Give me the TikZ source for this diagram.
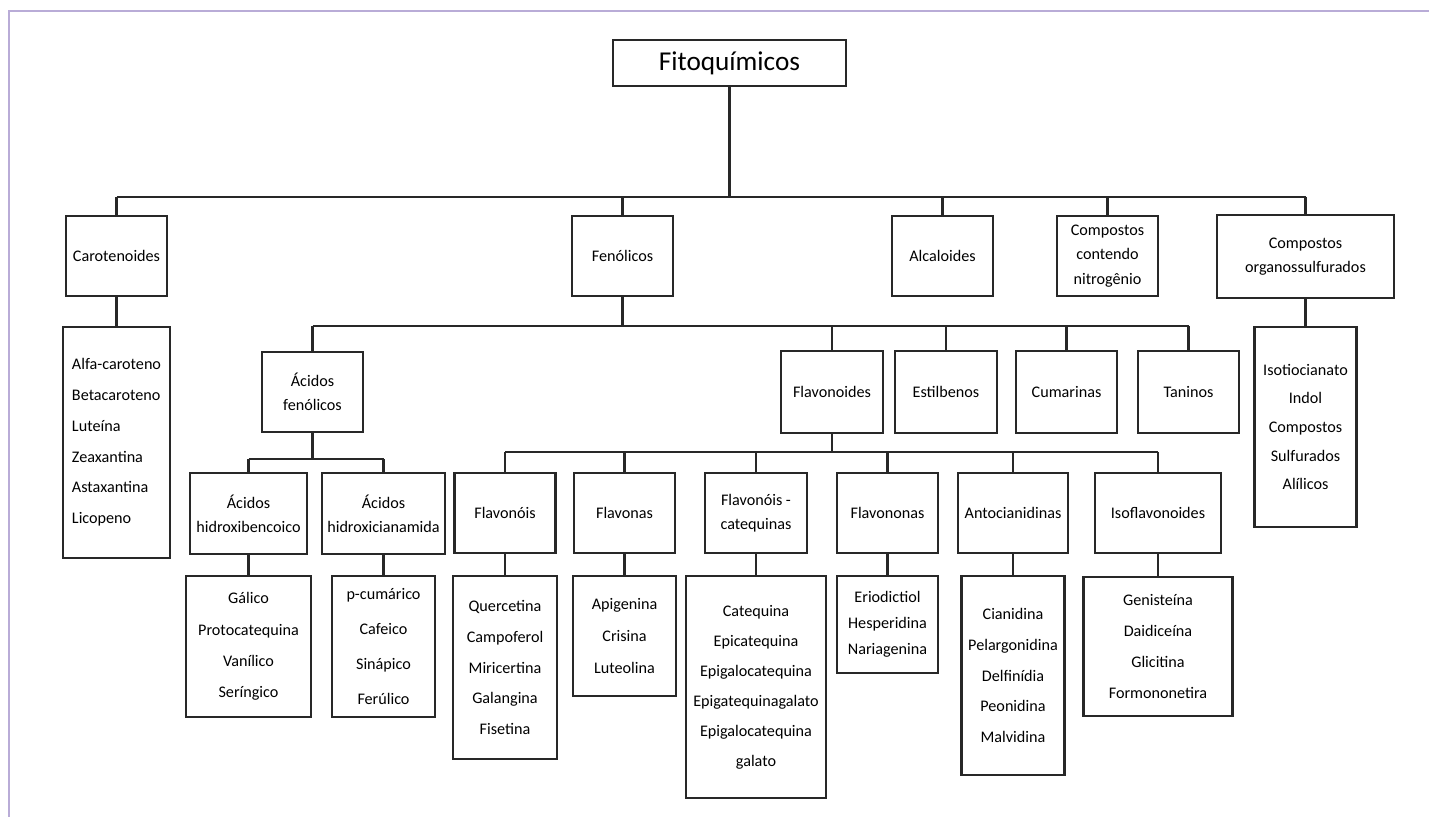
\documentclass[tikz,border=0pt]{standalone}
\usepackage{fontspec}
\setmainfont{Carlito}
\definecolor{framecol}{RGB}{185,172,215}
\definecolor{boxcol}{RGB}{40,40,40}

\begin{document}
\begin{tikzpicture}[x=0.02cm, y=-0.02cm,
  bx/.style 2 args={rectangle, draw=boxcol, line width=1.3pt, inner sep=0pt,
                    minimum width=#1cm, minimum height=#2cm, align=center,
                    font=\fontsize{9.2pt}{13.8pt}\selectfont},
  lst/.style={font=\fontsize{9.2pt}{#1pt}\selectfont},
  ln/.style={draw=boxcol, line width=1.3pt}
]
\useasboundingbox (0,0) rectangle (1429,817);
\draw[framecol, line width=1pt] (9,817) -- (9,11) -- (1429,11);

% root and first level
\node[bx={4.66}{0.92}, font=\fontsize{15.5pt}{18pt}\selectfont] (fito) at (729.5,63) {Fitoquímicos};
\node[bx={2.02}{1.6}]  (car)  at (116.5,256) {Carotenoides};
\node[bx={2.02}{1.6}]  (fen)  at (622.5,256) {Fenólicos};
\node[bx={2.02}{1.6}]  (alc)  at (942.5,256) {Alcaloides};
\node[bx={2.02}{1.6}]  (nit)  at (1107.5,256) {Compostos\\contendo\\nitrogênio};
\node[bx={3.54}{1.66}] (sulf) at (1305.5,256.5) {Compostos\\organossulfurados};

\node[bx={2.14}{4.62}, lst=17.5, align=left] (carl) at (116.5,442.5)
  {Alfa-caroteno\\Betacaroteno\\Luteína\\Zeaxantina\\Astaxantina\\Licopeno};
\node[bx={2.04}{4.0}, lst=16.3] (sulfl) at (1305.5,427)
  {Isotiocianato\\Indol\\Compostos\\Sulfurados\\Alílicos};

% fenolicos
\node[bx={2.02}{1.6}]  (acf) at (312.5,392) {Ácidos\\fenólicos};
\node[bx={2.04}{1.64}] (flv) at (832,392) {Flavonoides};
\node[bx={2.04}{1.64}] (est) at (946,392) {Estilbenos};
\node[bx={2.02}{1.64}] (cum) at (1066.5,392) {Cumarinas};
\node[bx={2.02}{1.64}] (tan) at (1188.5,392) {Taninos};

\node[bx={2.34}{1.62}] (ahb) at (248.5,513.5) {Ácidos\\hidroxibencoico};
\node[bx={2.46}{1.62}] (ahc) at (383.5,513.5) {Ácidos\\hidroxicianamida};
\node[bx={2.5}{2.82}, lst=17.8] (gal) at (248.5,646.5)
  {Gálico\\Protocatequina\\Vanílico\\Seríngico};
\node[bx={2.06}{2.82}, lst=19.8] (pcu) at (383.5,646.5)
  {p-cumárico\\Cafeico\\Sinápico\\Ferúlico};

% flavonoides
\node[bx={2.02}{1.6}]  (fol)  at (505,513) {Flavonóis};
\node[bx={2.02}{1.6}]  (fna)  at (624.5,513) {Flavonas};
\node[bx={2.04}{1.6}]  (fcat) at (756,513) {Flavonóis -\\catequinas};
\node[bx={2.02}{1.6}]  (fnn)  at (887.5,513) {Flavononas};
\node[bx={2.2}{1.6}]   (ant)  at (1013,513) {Antocianidinas};
\node[bx={2.52}{1.6}]  (iso)  at (1158,513) {Isoflavonoides};

\node[bx={2.08}{3.66}, lst=17.4] (foll) at (505,667.5)
  {Quercetina\\Campoferol\\Miricertina\\Galangina\\Fisetina};
\node[bx={2.06}{2.4}, lst=18.1] (fnal) at (624.5,636)
  {Apigenina\\Crisina\\Luteolina};
\node[bx={2.8}{4.44}, lst=17.1] (fcatl) at (756,687)
  {Catequina\\Epicatequina\\Epigalocatequina\\Epigatequinagalato\\Epigalocatequina\\galato};
\node[bx={2.02}{1.94}, lst=14.7] (fnnl) at (887.5,624.5)
  {Eriodictiol\\Hesperidina\\Nariagenina};
\node[bx={2.06}{3.98}, lst=17.4] (antl) at (1013,675.5)
  {Cianidina\\Pelargonidina\\Delfinídia\\Peonidina\\Malvidina};
\node[bx={2.98}{2.78}, lst=17.8] (isol) at (1158,646.5)
  {Genisteína\\Daidiceína\\Glicitina\\Formononetira};

% connectors
\coordinate (bus0) at (0,197);
\coordinate (bus1) at (0,326);
\coordinate (bus2) at (0,459);
\coordinate (bus3) at (0,452);

\draw[ln] (fito.south) -- (fito.south |- bus0);
\draw[ln] (car.north |- bus0) -- (sulf.north |- bus0);
\foreach \n in {car,fen,alc,nit,sulf}
  \draw[ln] (\n.north |- bus0) -- (\n.north);

\draw[ln] (fen.south) -- (fen.south |- bus1);
\draw[ln] (acf.north |- bus1) -- (tan.north |- bus1);
\foreach \n in {acf,flv,est,cum,tan}
  \draw[ln] (\n.north |- bus1) -- (\n.north);

\draw[ln] (acf.south) -- (acf.south |- bus2);
\draw[ln] (ahb.north |- bus2) -- (ahc.north |- bus2);
\foreach \n in {ahb,ahc}
  \draw[ln] (\n.north |- bus2) -- (\n.north);

\draw[ln] (flv.south) -- (flv.south |- bus3);
\draw[ln] (fol.north |- bus3) -- (iso.north |- bus3);
\foreach \n in {fol,fna,fcat,fnn,ant,iso}
  \draw[ln] (\n.north |- bus3) -- (\n.north);

\foreach \a/\b in {car/carl,sulf/sulfl,ahb/gal,ahc/pcu,fol/foll,fna/fnal,
                   fcat/fcatl,fnn/fnnl,ant/antl,iso/isol}
  \draw[ln] (\a.south) -- (\b.north);

\end{tikzpicture}
\end{document}
